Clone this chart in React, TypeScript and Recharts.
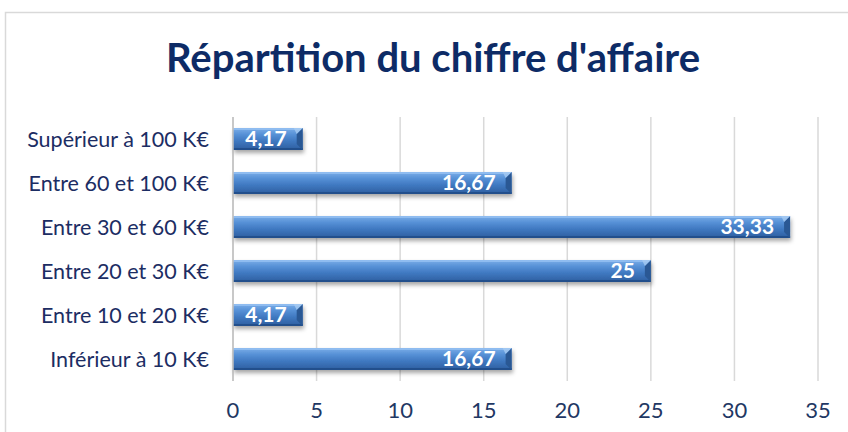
import { BarChart, Bar, XAxis, YAxis, CartesianGrid, LabelList } from 'recharts';

const categories = [
  'Supérieur à 100 K€',
  'Entre 60 et 100 K€',
  'Entre 30 et 60 K€',
  'Entre 20 et 30 K€',
  'Entre 10 et 20 K€',
  'Inférieur à 10 K€',
];
const shares = [4.17, 16.67, 33.33, 25, 4.17, 16.67];
const xTicks = [0, 5, 10, 15, 20, 25, 30, 35];

const data = categories.map((name, i) => ({ name, value: shares[i] }));

const font = 'Lato, "Open Sans", sans-serif';

// bar with a light top edge, dark bottom edge and a bevelled right end
const BevelBar = (props: any) => {
  const { x, y, width, height } = props;
  if (!width || width <= 0) return null;
  const b = Math.min(6, width / 2);
  return (
    <g filter="url(#barShadow)">
      <rect x={x} y={y} width={width} height={height} fill="url(#barFill)" />
      <rect x={x} y={y} width={width} height={2} fill="#8fbcf0" />
      <rect x={x} y={y + height - 2} width={width} height={2} fill="#244f8c" />
      <polygon points={`${x + width - b},${y + b} ${x + width},${y} ${x + width},${y + height} ${x + width - b},${y + height - b}`} fill="#2a5894" />
      <polygon points={`${x + width - b},${y + b} ${x + width},${y} ${x + width - b - 3},${y}`} fill="#a6caf2" opacity={0.8} />
    </g>
  );
};

const App = () => {
  return (
    <div style={{ position: 'absolute', left: 0, top: 0, width: 848, height: 432, background: '#fff' }}>
      <svg width={848} height={432} style={{ position: 'absolute', left: 0, top: 0 }}>
        <rect x={5.5} y={12.5} width={860} height={440} fill="#fff" stroke="#d9d9d9" strokeWidth={1.5} />
        <text x={433} y={72} textAnchor="middle" fontFamily={font} fontWeight={700} fontSize={40} fill="#0d2b66">
          Répartition du chiffre d'affaire
        </text>
      </svg>
      <div style={{ position: 'absolute', left: 0, top: 0 }}>
        <BarChart
          width={848}
          height={432}
          data={data}
          layout="vertical"
          margin={{ top: 117, right: 30, bottom: 0, left: 0 }}
        >
          <defs>
            <linearGradient id="barFill" x1="0" y1="0" x2="0" y2="1">
              <stop offset="0%" stopColor="#7aaee8" />
              <stop offset="30%" stopColor="#5690d6" />
              <stop offset="60%" stopColor="#3f78c0" />
              <stop offset="100%" stopColor="#2e5e9f" />
            </linearGradient>
            <filter id="barShadow" x="-10%" y="-30%" width="120%" height="180%">
              <feDropShadow dx={1} dy={3} stdDeviation={2} floodColor="#000" floodOpacity={0.35} />
            </filter>
          </defs>
          <CartesianGrid horizontal={false} stroke="#d9d9d9" strokeWidth={1.5} />
          <XAxis
            type="number"
            domain={[0, 35]}
            ticks={xTicks}
            axisLine={false}
            tickLine={false}
            height={51}
            tickMargin={15}
            tick={{ fill: '#1f3864', fontSize: 22, fontFamily: font }}
          />
          <YAxis
            type="category"
            dataKey="name"
            width={233}
            axisLine={{ stroke: '#bfbfbf', strokeWidth: 1.5 }}
            tickLine={false}
            tickMargin={18}
            tick={{ fill: '#1c2d63', fontSize: 21.5, fontFamily: font }}
          />
          <Bar dataKey="value" barSize={22} shape={BevelBar} isAnimationActive={false}>
            <LabelList
              dataKey="value"
              position="insideRight"
              offset={16}
              formatter={(v: any) => String(v).replace('.', ',')}
              style={{ fill: '#fff', fontWeight: 700, fontSize: 21, fontFamily: font }}
            />
          </Bar>
        </BarChart>
      </div>
    </div>
  );
};

export default App;
